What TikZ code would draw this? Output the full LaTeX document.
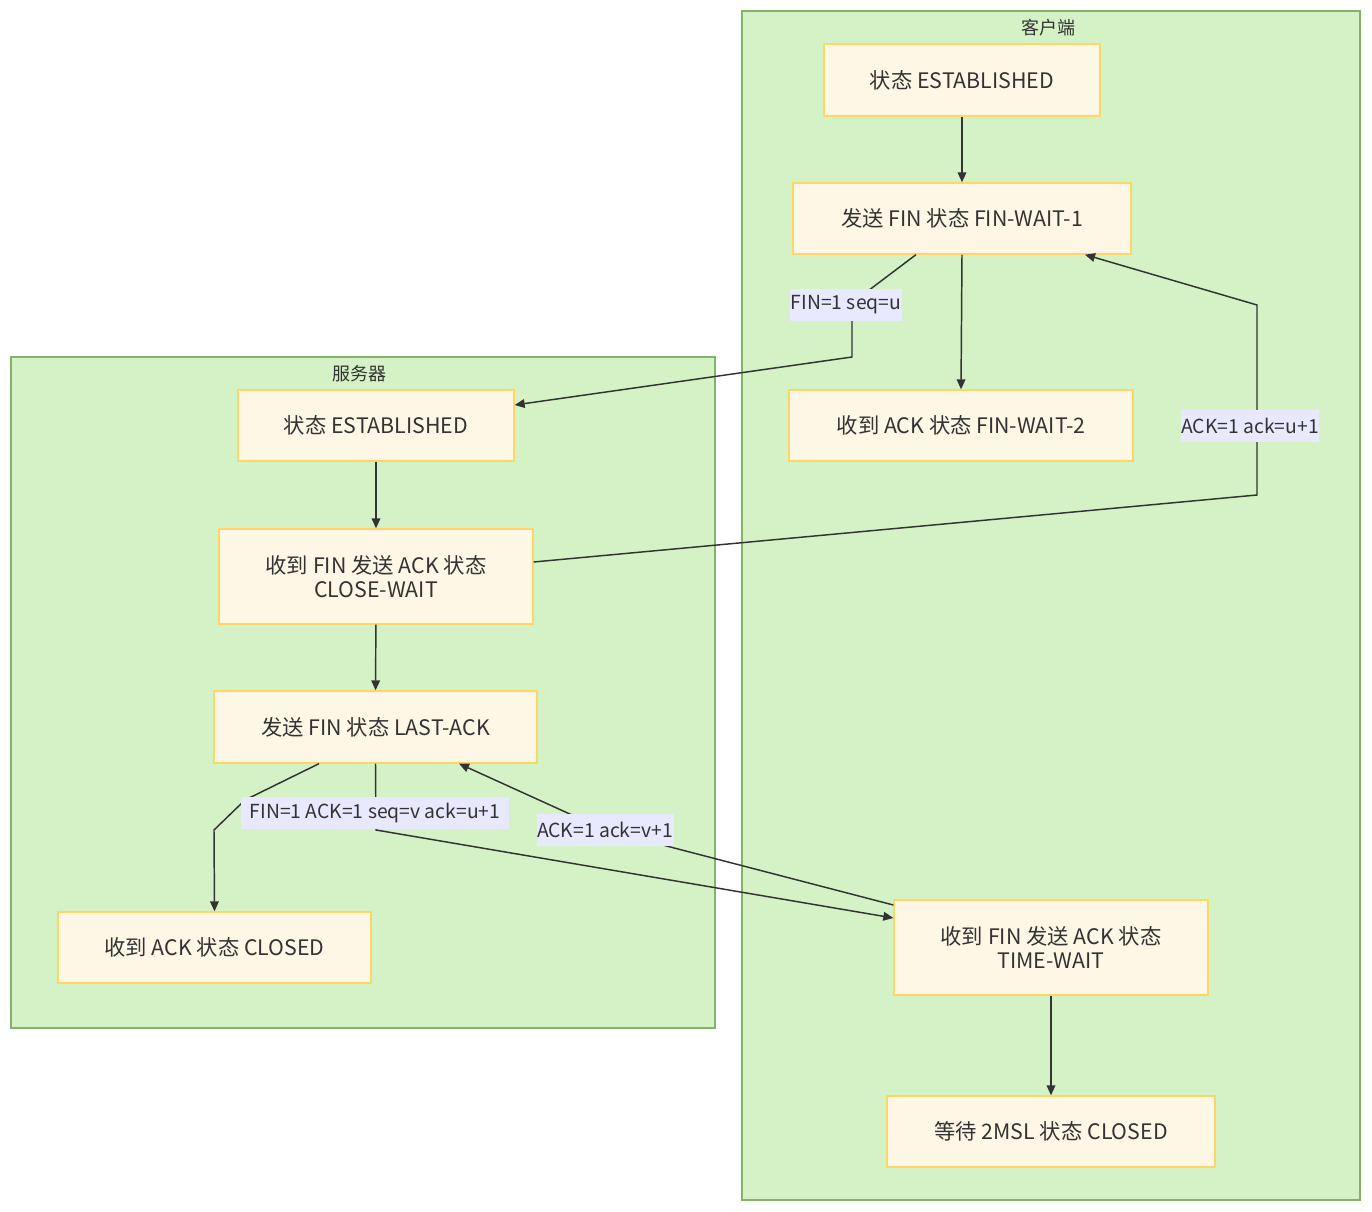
\documentclass[tikz,border=0pt]{standalone}
\usepackage{fontspec}
\setmainfont{Noto Sans CJK SC}
\usetikzlibrary{arrows.meta}
\definecolor{clfill}{HTML}{D4F2C6}
\definecolor{cldraw}{HTML}{82B366}
\definecolor{ndfill}{HTML}{FFF7E6}
\definecolor{nddraw}{HTML}{FFD666}
\definecolor{lbfill}{HTML}{E8E8FF}
\definecolor{ink}{HTML}{333333}
\tikzset{
  cluster/.style={draw=cldraw, fill=clfill, line width=1.2pt},
  cltitle/.style={text=ink, font=\fontsize{13.5}{16}\selectfont, inner sep=0pt},
  state/.style={draw=nddraw, fill=ndfill, line width=1pt, text=ink,
    font=\fontsize{16}{17.5}\selectfont, align=center, inner sep=0pt},
  elabel/.style={fill=lbfill, text=ink, font=\fontsize{14.5}{17}\selectfont, inner sep=0pt},
  conn/.style={draw=ink, line width=1.1pt},
  arr/.style={conn, -{Triangle[length=7.5pt,width=6.5pt]}},
}
\begin{document}
\begin{tikzpicture}[x=0.75pt,y=-0.75pt]
\useasboundingbox (0,0) rectangle (1372,1212);
% clusters
\path[cluster] (742,11) rectangle (1360,1200);
\node[cltitle] (tc) at (1048,28) {客户端};
\path[cluster] (11,357) rectangle (715,1028);
\node[cltitle] (ts) at (359,374) {服务器};
% client nodes
\node[state, minimum width=276*0.75pt, minimum height=72*0.75pt] (C1) at (962,80) {状态 ESTABLISHED};
\node[state, minimum width=338*0.75pt, minimum height=71*0.75pt] (C2) at (962,218.5) {发送 FIN 状态 FIN-WAIT-1};
\node[state, minimum width=344*0.75pt, minimum height=71*0.75pt] (C3) at (961,425.5) {收到 ACK 状态 FIN-WAIT-2};
\node[state, minimum width=314*0.75pt, minimum height=95*0.75pt] (C4) at (1051,947.5) {收到 FIN 发送 ACK 状态\\TIME-WAIT};
\node[state, minimum width=328*0.75pt, minimum height=71*0.75pt] (C5) at (1051,1131.5) {等待 2MSL 状态 CLOSED};
% server nodes
\node[state, minimum width=276*0.75pt, minimum height=71*0.75pt] (S1) at (376,425.5) {状态 ESTABLISHED};
\node[state, minimum width=314*0.75pt, minimum height=95*0.75pt] (S2) at (376,576.5) {收到 FIN 发送 ACK 状态\\CLOSE-WAIT};
\node[state, minimum width=323*0.75pt, minimum height=72*0.75pt] (S3) at (375.5,727) {发送 FIN 状态 LAST-ACK};
\node[state, minimum width=313*0.75pt, minimum height=71*0.75pt] (S4) at (214.5,947.5) {收到 ACK 状态 CLOSED};
% bend points
\coordinate (b1) at (852,303);
\coordinate (b2) at (852,357);
\coordinate (b3) at (1257,495);
\coordinate (b4) at (1257,305);
\coordinate (b5) at (245,800);
\coordinate (b6) at (214,830);
\coordinate (b7) at (376,830);
\coordinate (b8) at (605,830);
% edges
\draw[arr] (C1) -- (C2);
\draw[arr] (C2.south) -- (C3.north);
\draw[arr] (C2.south -| 916,0) -- (b1) -- (b2) -- (S1.east |- 0,405);
\draw[arr] (S2.east |- 0,562) -- (b3) -- (b4) -- (C2.south -| 1085,0);
\draw[arr] (S1) -- (S2);
\draw[arr] (S2) -- (S3);
\draw[arr] (S3.south -| 319,0) -- (b5) -- (b6) -- (S4.north);
\draw[arr] (S3.south) -- (b7) -- (C4.west |- 0,918);
\draw[arr] (C4.west |- 0,905) -- (b8) -- (S3.south -| 459,0);
\draw[arr] (C4) -- (C5);
% edge labels
\node[elabel, minimum width=112*0.75pt, minimum height=32*0.75pt] (L1) at (846,305) {FIN=1 seq=u};
\node[elabel, minimum width=138*0.75pt, minimum height=32*0.75pt] (L2) at (1250,426) {ACK=1 ack=u+1};
\node[elabel, minimum width=268*0.75pt, minimum height=32*0.75pt] (L3) at (375,813) {FIN=1 ACK=1 seq=v ack=u+1};
\node[elabel, minimum width=137*0.75pt, minimum height=32*0.75pt] (L4) at (605,830) {ACK=1 ack=v+1};
\end{tikzpicture}
\end{document}
